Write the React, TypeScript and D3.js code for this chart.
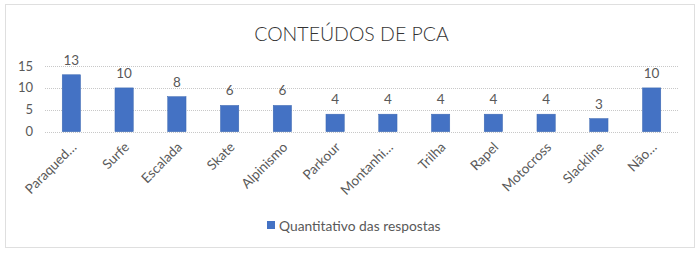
import React from "react";
import * as d3 from "d3";

const title = "CONTEÚDOS DE PCA";
const categories = ["Paraqued…", "Surfe", "Escalada", "Skate", "Alpinismo", "Parkour", "Montanhi…", "Trilha", "Rapel", "Motocross", "Slackline", "Não…"];
const values = [13, 10, 8, 6, 6, 4, 4, 4, 4, 4, 3, 10];
const yTicks = [0, 5, 10, 15];
const seriesName = "Quantitativo das respostas";

const W = 700, H = 253;
const FONT = "Lato, 'Open Sans', sans-serif";
const TEXT = "#595959";
const BAR = "#4472C4";

export default function App() {
  const x = d3.scaleBand<string>().domain(categories).range([45, 678]).paddingInner(0.653).paddingOuter(0.3265);
  const y = d3.scaleLinear().domain([0, 15]).range([131.7, 66]);
  const bw = x.bandwidth();
  return (
    <svg width={W} height={H} style={{ position: "absolute", left: 0, top: 0, background: "#fff" }} fontFamily={FONT}>
      <rect x={5.5} y={4.5} width={689} height={243} fill="#fff" stroke="#bfbfbf" strokeDasharray="1 1" />
      <text x={351.5} y={41} textAnchor="middle" fontSize={19.5} fontWeight={300} fill="#333333">{title}</text>
      {yTicks.map(t => (
        <g key={t}>
          <line x1={45} x2={678} y1={Math.round(y(t)) + 0.5} y2={Math.round(y(t)) + 0.5} stroke="#c8c8c8" strokeDasharray="1 1" />
          <text x={33} y={y(t) + 4.5} textAnchor="end" fontSize={13} fill={TEXT}>{t}</text>
        </g>
      ))}
      {categories.map((c, i) => {
        const x0 = x(c)!;
        const cx = x0 + bw / 2;
        return (
          <g key={c}>
            <rect x={x0} y={y(values[i])} width={bw} height={y(0) - y(values[i])} fill={BAR} stroke="#3a66b0" strokeWidth={0.5} />
            <text x={cx} y={y(values[i]) - 10} textAnchor="middle" fontSize={13.5} fill={TEXT}>{values[i]}</text>
            <text transform={`translate(${cx + 6},${148}) rotate(-45)`} textAnchor="end" fontSize={13.5} fill={TEXT}>{c}</text>
          </g>
        );
      })}
      <rect x={267} y={221} width={8} height={8} fill={BAR} />
      <text x={279} y={231} fontSize={13.8} fill={TEXT}>{seriesName}</text>
    </svg>
  );
}
